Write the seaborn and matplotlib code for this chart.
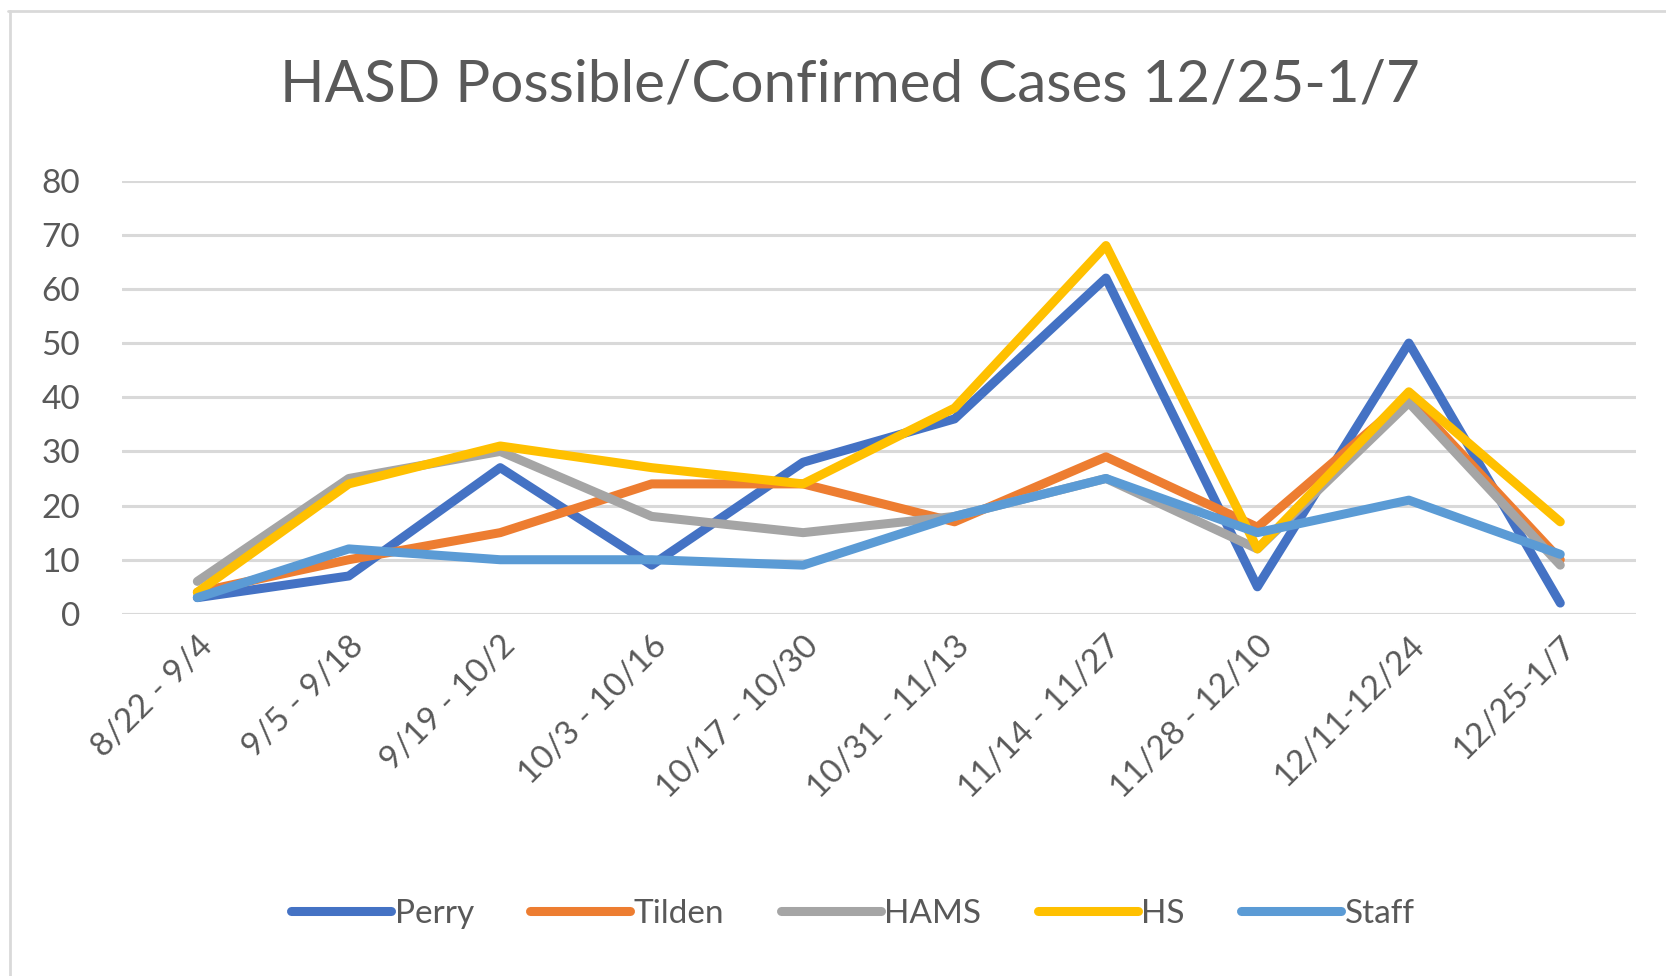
import pandas as pd
import matplotlib
matplotlib.use("Agg")
import matplotlib.pyplot as plt
import seaborn as sns
from matplotlib.lines import Line2D

# Datos
periods = ["8/22 - 9/4", "9/5 - 9/18", "9/19 - 10/2", "10/3 - 10/16",
           "10/17 - 10/30", "10/31 - 11/13", "11/14 - 11/27",
           "11/28 - 12/10", "12/11-12/24", "12/25-1/7"]
perry = [3, 7, 27, 9, 28, 36, 62, 5, 50, 2]
tilden = [4, 10, 15, 24, 24, 17, 29, 16, 40, 10]
hams = [6, 25, 30, 18, 15, 18, 25, 12, 39, 9]
hs = [4, 24, 31, 27, 24, 38, 68, 12, 41, 17]
staff = [3, 12, 10, 10, 9, 18, 25, 15, 21, 11]

series_names = ["Perry", "Tilden", "HAMS", "HS", "Staff"]
colors = ["#4472C4", "#ED7D31", "#A5A5A5", "#FFC000", "#5B9BD5"]

df = pd.DataFrame({
    "period": periods * 5,
    "cases": perry + tilden + hams + hs + staff,
    "school": [s for s in series_names for _ in periods],
})

sns.set_style("white")
plt.rcParams['font.family'] = ['Lato', 'DejaVu Sans']
text_color = "#595959"
grid_color = "#D9D9D9"

fig = plt.figure(figsize=(16.66, 9.76), dpi=100)
ax = fig.add_axes([0.073, 0.371, 0.909, 0.444])

sns.lineplot(data=df, x="period", y="cases", hue="school",
             palette=dict(zip(series_names, colors)), estimator=None,
             sort=False, linewidth=6.5, ax=ax, legend=False)

ax.set_xlim(-0.5, len(periods) - 0.5)
ax.set_ylim(0, 80)
ax.set_yticks(range(0, 81, 10))
ax.yaxis.grid(True, color=grid_color, linewidth=2.2)
ax.set_axisbelow(True)
for side in ["top", "right", "left", "bottom"]:
    ax.spines[side].set_visible(False)
ax.axhline(0, color=grid_color, linewidth=2.2, zorder=0)

ax.set_xlabel("")
ax.set_ylabel("")
ax.tick_params(axis="both", length=0, labelsize=24, colors=text_color)
ax.tick_params(axis="y", pad=30)
ax.tick_params(axis="x", pad=12)
for lbl in ax.get_xticklabels():
    lbl.set_rotation(45)
    lbl.set_ha("right")
    lbl.set_rotation_mode("anchor")

fig.suptitle("HASD Possible/Confirmed Cases 12/25-1/7", x=0.51, y=0.94,
             fontsize=42, color=text_color)

handles = [Line2D([0], [0], color=c, linewidth=6.5) for c in colors]
fig.legend(handles, series_names, loc="center", bbox_to_anchor=(0.512, 0.064),
           ncol=5, frameon=False, fontsize=24, handlelength=3.0,
           handletextpad=0.1, columnspacing=1.7, labelcolor=text_color)

# Borde del área del gráfico
fig.add_artist(Line2D([0.005, 1.0], [0.989, 0.989], color=grid_color,
                      linewidth=2, transform=fig.transFigure))
fig.add_artist(Line2D([0.006, 0.006], [0.0, 0.989], color=grid_color,
                      linewidth=2, transform=fig.transFigure))

fig.savefig("out.png", dpi=100, facecolor="white")
